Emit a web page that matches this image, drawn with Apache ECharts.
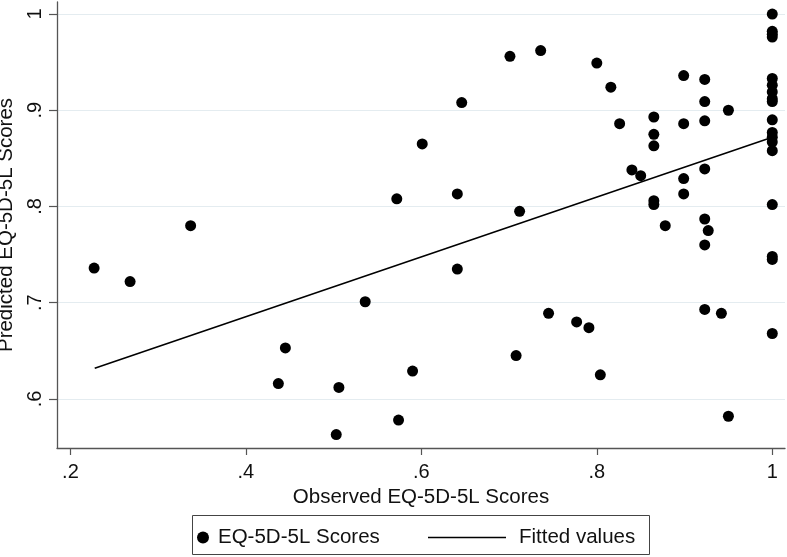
<!DOCTYPE html>
<html>
<head>
<meta charset="utf-8">
<script src="https://cdn.jsdelivr.net/npm/echarts@6/dist/echarts.min.js"></script>
<style>
html,body{margin:0;padding:0;background:#fff;}
#chart{width:787px;height:557px;}
</style>
</head>
<body>
<div id="chart"></div>
<script>
// Observed (x) and predicted (y) EQ-5D-5L scores
const obsX = [0.227,0.268,0.337,0.437,0.445,0.503,0.506,0.536,0.572,0.574,0.590,0.601,0.641,0.641,0.646,0.701,0.708,0.712,0.736,0.745,0.777,0.791,0.800,0.804,0.816,0.826,0.840,0.850,0.865,0.865,0.865,0.865,0.865,0.878,0.899,0.899,0.899,0.899,0.923,0.923,0.923,0.923,0.923,0.927,0.923,0.923,0.942,0.950,0.950,1,1,1,1,1,1,1,1,1,1,1,1,1,1,1,1,1,1];
const predY = [0.736,0.722,0.780,0.616,0.653,0.563,0.612,0.701,0.808,0.578,0.629,0.865,0.813,0.735,0.908,0.956,0.645,0.795,0.962,0.689,0.680,0.674,0.949,0.625,0.924,0.886,0.838,0.832,0.893,0.875,0.863,0.806,0.802,0.780,0.936,0.886,0.829,0.813,0.932,0.909,0.889,0.839,0.787,0.775,0.760,0.693,0.689,0.900,0.582,1.000,0.982,0.979,0.976,0.933,0.926,0.919,0.912,0.909,0.890,0.877,0.872,0.867,0.858,0.802,0.748,0.745,0.668];
// Fitted regression line endpoints
const fitX = [0.2277, 1.0];
const fitY = [0.632, 0.872];
// Tick values
const xTicks = [0.2, 0.4, 0.6, 0.8, 1];
const yTicks = [0.6, 0.7, 0.8, 0.9, 1];

const fmt = v => { const s = String(Math.round(v*10)/10); return s.replace(/^0\./, '.'); };
const FONT = 'Liberation Sans, Arial, sans-serif';

const chart = echarts.init(document.getElementById('chart'), null, {renderer:'canvas'});
chart.setOption({
  animation: false,
  backgroundColor: '#fff',
  textStyle: {fontFamily: FONT},
  grid: {left: 57, right: 2, top: 2, bottom: 109, containLabel: false, outerBoundsMode: 'none'},
  xAxis: {
    type: 'value', min: 0.1847, max: 1.0145,
    name: 'Observed EQ-5D-5L Scores', nameLocation: 'middle', nameGap: 30,
    nameTextStyle: {fontSize: 20.5, color: '#111', fontFamily: FONT},
    axisLine: {show: true, onZero: false, lineStyle: {color: '#555', width: 1.3}},
    axisTick: {show: true, length: 7, customValues: xTicks, lineStyle: {color: '#555', width: 1.2}},
    axisLabel: {customValues: xTicks, formatter: fmt, fontSize: 20, color: '#111', margin: 14, fontFamily: FONT},
    splitLine: {show: false}
  },
  yAxis: {
    type: 'value', min: 0.549, max: 1.0125,
    name: 'Predicted EQ-5D-5L Scores', nameLocation: 'middle', nameGap: 35,
    nameTextStyle: {fontSize: 20.5, color: '#111', fontFamily: FONT},
    axisLine: {show: true, onZero: false, lineStyle: {color: '#555', width: 1.3}},
    axisTick: {show: true, length: 8, customValues: yTicks, lineStyle: {color: '#555', width: 1.2}},
    axisLabel: {customValues: yTicks, formatter: fmt, rotate: 90, fontSize: 20, color: '#111', margin: 12, fontFamily: FONT},
    splitLine: {show: true, lineStyle: {color: '#e4ecf0', width: 1.2}}
  },
  legend: [
    {data: [{name: 'EQ-5D-5L Scores', icon: 'circle'}], left: 197, top: 527, padding: 0, itemWidth: 20, itemHeight: 12,
     textStyle: {fontSize: 20.5, color: '#111', fontFamily: FONT}},
    {data: [{name: 'Fitted values', icon: 'rect'}], left: 428, top: 527, padding: 0, itemWidth: 78, itemHeight: 1.6,
     textStyle: {fontSize: 20.5, color: '#111', fontFamily: FONT, padding: [0,0,0,8]}}
  ],
  graphic: [{
    type: 'rect', shape: {x: 192.5, y: 515.5, width: 457, height: 39},
    style: {fill: 'none', stroke: '#444', lineWidth: 1}, silent: true
  }],
  series: [
    {name: 'EQ-5D-5L Scores', type: 'scatter', symbol: 'circle', symbolSize: 11,
     itemStyle: {color: '#000', opacity: 1}, data: obsX.map((x,i) => [x, predY[i]])},
    {name: 'Fitted values', type: 'line', symbol: 'none', showSymbol: false,
     lineStyle: {color: '#000', width: 1.6}, itemStyle: {color: '#000'},
     data: fitX.map((x,i) => [x, fitY[i]])}
  ]
});
</script>
</body>
</html>
